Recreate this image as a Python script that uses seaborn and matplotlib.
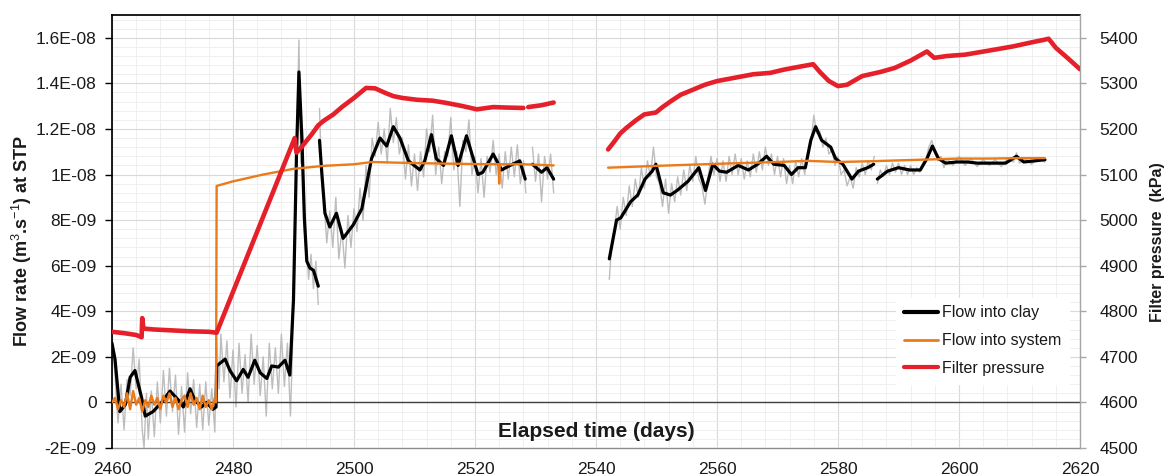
import numpy as np
import pandas as pd
import matplotlib
matplotlib.use("Agg")
import matplotlib.pyplot as plt
import matplotlib.ticker as mticker
from matplotlib.lines import Line2D
import seaborn as sns

nan = np.nan

# ---------------- data (flow values in units of 1e-9 m3/s, pressure in kPa) ----------------
clay_days = [2460, 2460.5, 2461.3, 2462.2, 2463, 2463.8, 2464.9, 2465.5, 2466.8, 2468.2, 2469.6, 2471,
             2471.8, 2472.9, 2473.7, 2474.8, 2475.6, 2476.7, 2477.2, 2477.3, 2478.7, 2479.5, 2480.6,
             2481.7, 2482.5, 2483.6, 2484.5, 2485.6, 2486.4, 2487.5, 2488.6, 2489.4, 2490, 2490.5,
             2490.9, 2491.4, 2491.8, 2492.2, 2492.7, 2493.3, 2494.1, nan,
             2494.3, 2494.7, 2495.2, 2496, 2497.1, 2498.2, 2499.9, 2501.3, 2502.1, 2502.9, 2504.3,
             2505.4, 2506.5, 2507.6, 2509, 2510.9, 2511.7, 2512.8, 2513.6, 2514.8, 2516.1, 2517.2,
             2518.6, 2520.5, 2521.3, 2523, 2524.4, 2525.8, 2527.4, 2528.3, nan,
             2529.5, 2531, 2531.9, 2533, nan,
             2542.2, 2543.4, 2544.1, 2545.7, 2546.9, 2548.1, 2549.3, 2549.9, 2551.1, 2552.3, 2553.4,
             2555.2, 2557, 2558.1, 2559.3, 2560.4, 2561.6, 2563.5, 2565.2, 2566.7, 2568.2, 2569.4,
             2571.1, 2572.3, 2573.4, 2574.6, 2575.5, 2576.3, 2577.3, 2578.8, 2579.6, 2580.8, 2582.3,
             2583.4, 2584.9, 2585.9, nan,
             2586.5, 2588.2, 2590, 2591.8, 2593.6, 2594.7, 2595.6, 2596.6, 2597.8, 2599.6, 2601.4,
             2603, 2605.5, 2607.7, 2609.5, 2610.7, 2612.5, 2614.2]
clay_vals = [2.6, 1.9, -0.4, -0.1, 1.1, 1.4, 0.2, -0.6, -0.4, 0.0, 0.5, 0.1,
             -0.2, 0.6, 0.1, -0.2, 0.0, -0.3, -0.2, 1.6, 1.9, 1.4, 0.95,
             1.45, 1.1, 1.85, 1.3, 1.05, 1.6, 1.55, 1.85, 1.2, 4.5, 10.9,
             14.5, 11.5, 8.1, 6.2, 5.9, 5.8, 5.1, nan,
             11.5, 10.0, 8.3, 7.7, 8.3, 7.2, 7.8, 8.5, 9.6, 10.7, 11.6,
             11.25, 12.1, 11.6, 10.6, 10.2, 10.6, 11.75, 10.7, 10.4, 11.7, 10.4,
             11.7, 10.0, 10.1, 10.9, 10.2, 10.4, 10.6, 9.8, nan,
             10.45, 10.1, 10.3, 9.8, nan,
             6.3, 8.0, 8.1, 8.8, 9.1, 9.8, 10.15, 10.45, 9.2, 9.1, 9.3,
             9.7, 10.3, 9.3, 10.45, 10.15, 10.1, 10.4, 10.2, 10.45, 10.8, 10.45,
             10.4, 10.0, 10.3, 10.3, 11.5, 12.1, 11.5, 11.2, 10.7, 10.45, 9.8,
             10.15, 10.3, 10.45, nan,
             9.8, 10.15, 10.3, 10.2, 10.2, 10.7, 11.25, 10.7, 10.5, 10.55, 10.55,
             10.5, 10.5, 10.5, 10.8, 10.55, 10.6, 10.65]

raw_days = [2460, 2460.5, 2461, 2461.5, 2462, 2462.5, 2463, 2463.5, 2464, 2464.5, 2465, 2465.3,
            2465.7, 2466, 2466.5, 2467, 2467.5, 2468, 2468.5, 2469, 2469.5, 2470, 2470.5, 2471,
            2471.5, 2472, 2472.5, 2473, 2473.5, 2474, 2474.5, 2475, 2475.5, 2476, 2476.5, 2477,
            2477.3, 2477.7, 2478, 2478.5, 2479, 2479.5, 2480, 2480.5, 2481, 2481.5, 2482, 2482.5,
            2483, 2483.5, 2484, 2484.5, 2485, 2485.5, 2486, 2486.5, 2487, 2487.5, 2488, 2488.5,
            2489, 2489.5, 2489.8, 2490.1, 2490.5, 2490.9, 2491.2, 2491.5, 2491.8, 2492.1, 2492.5,
            2492.9, 2493.3, 2493.7, 2494.1, nan,
            2494.3, 2494.7, 2495, 2495.5, 2496, 2496.5, 2497, 2497.5, 2498, 2498.5, 2499, 2499.5,
            2500, 2500.5, 2501, 2501.5, 2502, 2502.5, 2503, 2503.5, 2504, 2504.5, 2505, 2505.5,
            2506, 2506.5, 2507, 2507.5, 2508, 2508.5, 2509, 2509.5, 2510, 2510.5, 2511, 2511.5,
            2512, 2512.5, 2513, 2513.5, 2514, 2514.5, 2515, 2515.5, 2516, 2516.5, 2517, 2517.5,
            2518, 2518.5, 2519, 2519.5, 2520, 2520.5, 2521, 2521.5, 2522, 2522.5, 2523, 2523.5,
            2524, 2524.5, 2525, 2525.5, 2526, 2526.5, 2527, 2527.5, 2528, 2528.4, nan,
            2529.5, 2530, 2530.5, 2531, 2531.5, 2532, 2532.5, 2533, nan,
            2542.2, 2542.6, 2543, 2543.5, 2544, 2544.5, 2545, 2545.5, 2546, 2546.5, 2547, 2547.5,
            2548, 2548.5, 2549, 2549.5, 2550, 2550.5, 2551, 2551.5, 2552, 2552.5, 2553, 2553.5,
            2554, 2554.5, 2555, 2555.5, 2556, 2556.5, 2557, 2557.5, 2558, 2558.5, 2559, 2559.5,
            2560, 2560.5, 2561, 2561.5, 2562, 2562.5, 2563, 2563.5, 2564, 2564.5, 2565, 2565.5,
            2566, 2566.5, 2567, 2567.5, 2568, 2568.5, 2569, 2569.5, 2570, 2570.5, 2571, 2571.5,
            2572, 2572.5, 2573, 2573.5, 2574, 2574.5, 2575, 2575.5, 2576, 2576.5, 2577, 2577.5,
            2578, 2578.5, 2579, 2579.5, 2580, 2580.5, 2581, 2581.5, 2582, 2582.5, 2583, 2583.5,
            2584, 2584.5, 2585, 2585.5, 2586, nan,
            2586.5, 2587, 2587.5, 2588, 2588.5, 2589, 2589.5, 2590, 2590.5, 2591, 2591.5, 2592,
            2592.5, 2593, 2593.5, 2594, 2594.5, 2595, 2595.5, 2596, 2596.5, 2597, 2597.5, 2598,
            2599, 2600, 2601, 2602, 2603, 2604, 2605, 2606, 2607, 2608, 2609, 2609.5, 2610, 2611,
            2612, 2613, 2614.2]
raw_vals = [3.0, 1.2, -0.9, 0.8, -1.2, 1.0, 0.3, 2.4, 0.6, 1.9, -1.2, -2.0,
            0.4, -1.6, 0.5, -1.5, 0.9, -0.9, 1.4, -0.6, 1.5, -0.4, 1.2, -1.4,
            0.7, -1.3, 1.3, -0.5, 1.0, -1.1, 0.8, -1.2, 0.9, -1.0, 0.6, -1.3,
            2.8, 0.6, 3.0, 0.9, 2.7, 0.2, 2.3, -0.2, 2.6, 0.4, 2.1, 0.0,
            3.0, 0.8, 2.5, 0.3, 2.0, -0.6, 2.6, 0.6, 2.4, 0.4, 3.0, 0.7,
            2.6, -0.6, 2.0, 6.0, 11.0, 15.9, 10.5, 12.0, 7.5, 7.0, 5.4,
            6.5, 5.0, 6.2, 4.3, nan,
            12.9, 9.5, 9.0, 7.0, 8.4, 6.8, 9.0, 6.3, 7.6, 5.9, 8.2, 6.8,
            8.5, 7.5, 9.4, 8.0, 10.4, 9.0, 11.6, 10.8, 12.3, 10.9, 12.0, 10.5,
            12.9, 11.4, 12.5, 10.9, 11.6, 9.8, 11.3, 9.5, 10.9, 9.3, 11.0, 9.9,
            12.0, 11.0, 12.6, 10.0, 11.2, 9.6, 11.0, 10.8, 12.5, 10.2, 11.0, 8.6,
            11.5, 11.0, 12.4, 10.0, 10.8, 9.2, 10.7, 9.0, 10.8, 10.1, 11.5, 10.0,
            10.9, 9.4, 11.0, 9.8, 11.2, 9.9, 11.3, 9.6, 10.6, 9.2, nan,
            11.2, 9.7, 10.9, 8.8, 10.8, 9.8, 10.9, 9.2, nan,
            5.4, 7.0, 7.5, 8.6, 7.6, 9.0, 8.2, 9.5, 8.6, 9.8, 9.0, 10.3,
            9.4, 10.6, 9.9, 11.2, 9.9, 9.6, 8.6, 9.8, 8.3, 9.6, 8.8, 9.9,
            9.1, 10.2, 9.3, 10.4, 9.7, 10.8, 9.8, 9.5, 8.7, 9.8, 10.8, 10.0,
            10.7, 9.7, 10.6, 9.7, 10.8, 10.0, 10.9, 10.0, 10.7, 9.8, 10.6, 9.9,
            10.9, 10.1, 11.0, 10.2, 11.2, 10.4, 10.9, 10.0, 10.8, 9.9, 10.7, 9.6,
            10.4, 9.6, 10.6, 9.9, 10.7, 10.0, 11.0, 11.3, 12.6, 11.8, 11.9, 11.2,
            11.6, 10.9, 11.1, 10.4, 10.8, 10.0, 10.2, 9.5, 9.9, 9.4, 10.3, 9.9,
            10.5, 10.0, 10.6, 10.2, 10.8, nan,
            9.6, 10.2, 9.9, 10.4, 10.0, 10.5, 10.1, 10.5, 10.0, 10.4, 10.0, 10.4,
            10.0, 10.3, 10.1, 10.5, 10.6, 11.2, 11.5, 11.0, 10.6, 10.8, 10.3, 10.7,
            10.4, 10.8, 10.4, 10.7, 10.35, 10.65, 10.4, 10.65, 10.35, 10.7, 10.55, 10.95, 10.5, 10.7,
            10.45, 10.7, 10.55]

system_days = [2460, 2460.5, 2461, 2461.5, 2462, 2462.5, 2463, 2463.5, 2464, 2464.5, 2465, 2465.5,
               2466, 2466.5, 2467, 2467.5, 2468, 2468.5, 2469, 2469.5, 2470, 2470.5, 2471, 2471.5,
               2472, 2472.5, 2473, 2473.5, 2474, 2474.5, 2475, 2475.5, 2476, 2476.5, 2477, 2477.2,
               2477.3, 2480, 2485, 2490, 2495, 2500, 2503, 2510, 2515, 2520, 2523.9, 2524.0, 2524.1,
               2528, 2533, nan,
               2542, 2550, 2560, 2570, 2575, 2580, 2585, 2590, 2595, 2600, 2605, 2610, 2614.2]
system_vals = [0.0, 0.2, -0.3, 0.1, -0.2, 0.4, -0.3, 0.5, -0.1, 0.2, -0.4, 0.1,
               -0.2, 0.3, -0.1, 0.2, -0.3, 0.3, 0.0, 0.4, -0.2, 0.2, -0.3, 0.1,
               0.3, -0.2, 0.4, -0.1, 0.2, -0.3, 0.3, -0.2, 0.1, -0.3, 0.2, 0.0,
               9.5, 9.7, 10.0, 10.25, 10.38, 10.45, 10.55, 10.5, 10.48, 10.46, 10.45, 9.6, 10.45,
               10.45, 10.4, nan,
               10.3, 10.38, 10.47, 10.55, 10.6, 10.55, 10.58, 10.62, 10.66, 10.7, 10.7, 10.72, 10.72]

pressure_days = [2460, 2462, 2464, 2464.9, 2465.0, 2465.2, 2467, 2470, 2473, 2476, 2477.3,
                 2490.2, 2490.5, 2491.5, 2493, 2494.1, 2495, 2496.6, 2498, 2500, 2502, 2503.5,
                 2505, 2506.5, 2508, 2510.4, 2513, 2515.3, 2518, 2520.3, 2523, 2525, 2528, nan,
                 2528.8, 2531, 2533, nan,
                 2542, 2543, 2544, 2545, 2546.5, 2548, 2549.9, 2551, 2552.5, 2554, 2556, 2558,
                 2560, 2562.8, 2566, 2568.8, 2571, 2573, 2575.9, 2577, 2578.5, 2580, 2581.5, 2584,
                 2587, 2589.4, 2592, 2594.7, 2595.9, 2598, 2601, 2605, 2608.9, 2612, 2614.2,
                 2614.8, 2616, 2618, 2620]
pressure_vals = [4755, 4752, 4748, 4743, 4785, 4762, 4760, 4758, 4756, 4755, 4753,
                 5180, 5148, 5163, 5188, 5208, 5218, 5232, 5248, 5268, 5290, 5289,
                 5280, 5272, 5268, 5264, 5262, 5257, 5250, 5243, 5248, 5247, 5246, nan,
                 5248, 5252, 5258, nan,
                 5155, 5172, 5190, 5202, 5218, 5232, 5236, 5248, 5262, 5275, 5286, 5297,
                 5305, 5312, 5320, 5323, 5330, 5335, 5342, 5325, 5305, 5294, 5297, 5316,
                 5325, 5334, 5350, 5370, 5356, 5360, 5363, 5372, 5381, 5390, 5396,
                 5398, 5378, 5355, 5331]

series_labels = ["Flow into clay", "Flow into system", "Filter pressure"]
left_ticks = [-2e-9, 0, 2e-9, 4e-9, 6e-9, 8e-9, 1e-8, 1.2e-8, 1.4e-8, 1.6e-8]
left_tick_labels = ["-2E-09", "0", "2E-09", "4E-09", "6E-09", "8E-09", "1E-08", "1.2E-08",
                    "1.4E-08", "1.6E-08"]
right_ticks = [4500, 4600, 4700, 4800, 4900, 5000, 5100, 5200, 5300, 5400]
x_ticks = [2460, 2480, 2500, 2520, 2540, 2560, 2580, 2600, 2620]

FLOW_UNIT = 1e-9


def to_frame(days, vals, scale=1.0):
    d = np.asarray(days, dtype=float)
    v = np.asarray(vals, dtype=float)
    seg = np.cumsum(np.isnan(v))
    df = pd.DataFrame({"day": d, "val": v * scale, "seg": seg})
    return df.dropna()


raw_df = to_frame(raw_days, raw_vals, FLOW_UNIT)
clay_df = to_frame(clay_days, clay_vals, FLOW_UNIT)
sys_df = to_frame(system_days, system_vals, FLOW_UNIT)
pres_df = to_frame(pressure_days, pressure_vals)

# ---------------- style ----------------
sns.set_theme(style="white")
plt.rcParams["font.family"] = ["Liberation Sans", "DejaVu Sans"]
plt.rcParams["mathtext.fontset"] = "custom"
plt.rcParams["mathtext.rm"] = "Liberation Sans"
plt.rcParams["mathtext.it"] = "Liberation Sans:italic"
plt.rcParams["mathtext.bf"] = "Liberation Sans:bold"

C_GREY = "#BDBDBD"
C_BLACK = "#000000"
C_ORANGE = "#EA7A1A"
C_RED = "#E5202A"
C_TEXT = "#1a1a1a"

fig = plt.figure(figsize=(11.7, 4.76), dpi=100)
ax = fig.add_axes([0.0957, 0.0588, 0.8274, 0.9097])
ax2 = ax.twinx()

sns.lineplot(data=raw_df, x="day", y="val", units="seg", estimator=None, sort=False,
             color=C_GREY, lw=1.0, ax=ax, legend=False, zorder=2)
sns.lineplot(data=clay_df, x="day", y="val", units="seg", estimator=None, sort=False,
             color=C_BLACK, lw=2.3, ax=ax, legend=False, zorder=3)
sns.lineplot(data=sys_df, x="day", y="val", units="seg", estimator=None, sort=False,
             color=C_ORANGE, lw=1.7, ax=ax, legend=False, zorder=4)
sns.lineplot(data=pres_df, x="day", y="val", units="seg", estimator=None, sort=False,
             color=C_RED, lw=3.3, ax=ax2, legend=False, zorder=5)

# ---------------- axes ----------------
ax.set_xlim(2460, 2620)
ax.set_ylim(-2e-9, 1.7e-8)
ax2.set_ylim(4500, 5450)
ax.set_xlabel("")
ax2.set_xlabel("")

ax.set_xticks(x_ticks)
ax.xaxis.set_minor_locator(mticker.MultipleLocator(4))
ax.set_yticks(left_ticks)
ax.set_yticklabels(left_tick_labels)
ax.yaxis.set_minor_locator(mticker.MultipleLocator(0.4e-9))
ax.set_axisbelow(True)
ax.grid(True, which="major", color="#d9d9d9", lw=0.8)
ax.grid(True, which="minor", color="#ececec", lw=0.6)

# horizontal axis crossing at zero
ax.spines["bottom"].set_position(("data", 0))
ax.spines["bottom"].set_color("#404040")
ax.spines["bottom"].set_linewidth(1.0)
ax.tick_params(axis="x", which="major", direction="out", length=5, width=1,
               color="#404040", labelbottom=False)
ax.tick_params(axis="x", which="minor", length=0)
ax.spines["left"].set_color("#000000")
ax.spines["top"].set_color("#000000")
ax.spines["right"].set_visible(False)
ax.tick_params(axis="y", which="major", direction="out", length=5, width=1, color="#000000",
               labelsize=12.5, labelcolor=C_TEXT, pad=6, left=True)
ax.tick_params(axis="y", which="minor", length=0)

# bottom labels on a secondary axis at the plot-area edge
sec = ax.secondary_xaxis("bottom")
sec.set_xticks(x_ticks)
sec.tick_params(axis="x", length=0, labelsize=12.5, labelcolor=C_TEXT, pad=10)
sec.spines["bottom"].set_color("#8c8c8c")
sec.spines["bottom"].set_linewidth(1.0)

ax2.set_yticks(right_ticks)
ax2.set_yticklabels([str(v) for v in right_ticks])
ax2.tick_params(axis="y", direction="out", length=4, width=1, color="#a6a6a6",
                labelsize=12.5, labelcolor=C_TEXT, pad=10)
for s in ["left", "top", "bottom"]:
    ax2.spines[s].set_visible(False)
ax2.spines["right"].set_color("#a6a6a6")
ax2.spines["right"].set_linewidth(1.0)
ax2.grid(False)

# axis titles
ax.text(0.5, 0.037, "Elapsed time (days)", transform=ax.transAxes, ha="center", va="center",
        fontsize=15, fontweight="bold", color=C_TEXT, zorder=10)
ax.set_ylabel(r"Flow rate (m$^{3}$.s$^{-1}$) at STP", fontsize=13, fontweight="bold",
              color=C_TEXT)
ax.yaxis.set_label_coords(-0.093, 0.478)
ax.yaxis.label.set_va("center")
ax2.set_ylabel("Filter pressure  (kPa)", fontsize=11.5, fontweight="bold", color=C_TEXT)
ax2.yaxis.set_label_coords(1.080, 0.476)
ax2.yaxis.label.set_va("center")

handles = [Line2D([], [], color=C_BLACK, lw=3.0),
           Line2D([], [], color=C_ORANGE, lw=2.0),
           Line2D([], [], color=C_RED, lw=3.0)]
leg = ax2.legend(handles, series_labels, loc="upper left", bbox_to_anchor=(0.802, 0.366),
                 frameon=True, fontsize=11.5, handlelength=2.1, handletextpad=0.25,
                 labelspacing=0.8, borderpad=0.5, fancybox=False)
leg.get_frame().set_facecolor("white")
leg.get_frame().set_edgecolor("white")
leg.get_frame().set_alpha(1.0)
for t in leg.get_texts():
    t.set_color(C_TEXT)

fig.savefig("out.png", dpi=100)
